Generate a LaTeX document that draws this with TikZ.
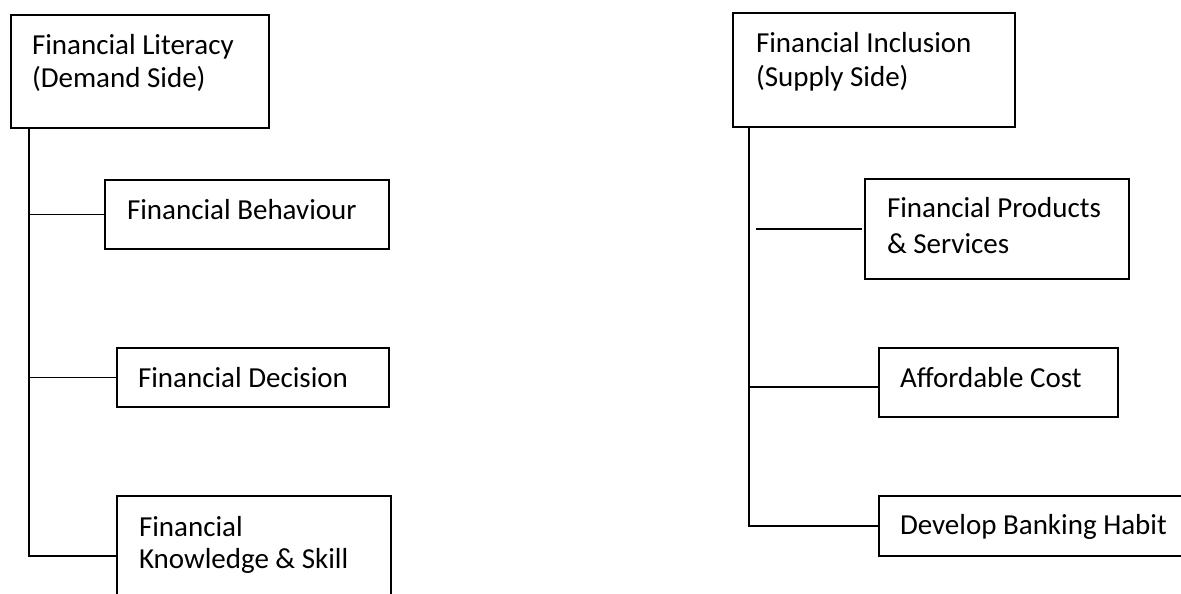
\documentclass[tikz,border=0pt]{standalone}
\usepackage{fontspec}
\setmainfont{Carlito}
\tikzset{
  box/.style={draw, line width=1.6pt, inner sep=0pt, outer sep=0pt},
  txt/.style={anchor=base west, inner sep=0pt, outer sep=0pt, font=\fontsize{29}{34}\selectfont},
  conn/.style={line width=1.6pt}
}
\newcommand{\twoline}[3]{\begin{tabular}[t]{@{}l@{}}#1\\[#3]#2\end{tabular}}
\begin{document}
\begin{tikzpicture}[x=1pt,y=-1pt]
\useasboundingbox (0,0) rectangle (1181,594);
% left column boxes
\node[box, minimum width=258pt, minimum height=113pt] (lit) at (140,71.5) {};
\node[box, minimum width=284pt, minimum height=69pt] (beh) at (247,214.5) {};
\node[box, minimum width=272pt, minimum height=59pt] (dec) at (253,377.5) {};
\node[box, minimum width=274pt, minimum height=120pt] (know) at (254,556) {};
% right column boxes
\node[box, minimum width=282pt, minimum height=114pt] (inc) at (874,70) {};
\node[box, minimum width=264pt, minimum height=100pt] (prod) at (997,229) {};
\node[box, minimum width=239pt, minimum height=69pt] (aff) at (998.5,382.5) {};
\node[box, minimum width=320pt, minimum height=60pt] (dev) at (1039,526) {};
% texts
\node[txt] (tlit) at (32,55) {\twoline{Financial Literacy}{(Demand Side)}{-1pt}};
\node[txt] (tbeh) at (127,219) {Financial Behaviour};
\node[txt] (tdec) at (138,387) {Financial Decision};
\node[txt] (tknow) at (139,536) {\twoline{Financial}{Knowledge \& Skill}{-2pt}};
\node[txt] (tinc) at (756,53) {\twoline{Financial Inclusion}{(Supply Side)}{-1pt}};
\node[txt] (tprod) at (887,217) {\twoline{Financial Products}{\& Services}{2pt}};
\node[txt] (taff) at (900,387) {Affordable Cost};
\node[txt] (tdev) at (900,534) {Develop Banking Habit};
% connectors left
\coordinate (lx) at (29,0);
\draw[conn] (lit.south -| lx) |- (know.west);
\draw[conn] (lx |- beh.west) -- (beh.west);
\draw[conn] (lx |- dec.west) -- (dec.west);
% connectors right
\coordinate (rx) at (749,0);
\draw[conn] (inc.south -| rx) |- (dev.west);
\coordinate (aj) at (749,387);
\draw[conn] (aj) -- (aj -| aff.west);
\coordinate (pa) at (756,229);
\coordinate (pb) at (862,229);
\draw[conn] (pa) -- (pb);
\end{tikzpicture}
\end{document}
